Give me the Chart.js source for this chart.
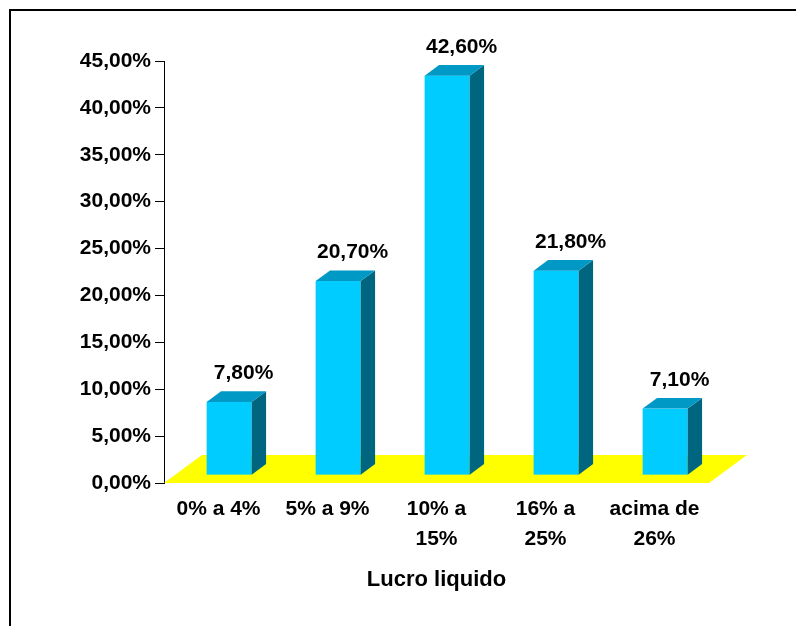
<!DOCTYPE html>
<html>
<head>
<meta charset="utf-8">
<script src="https://cdn.jsdelivr.net/npm/chart.js@4.4.0/dist/chart.umd.min.js"></script>
<style>
  html, body { margin: 0; padding: 0; background: #fff; overflow: hidden; }
  #wrap { position: relative; width: 796px; height: 626px; }
  #frame {
    position: absolute; left: 9px; top: 9px; width: 800px; height: 640px;
    border-left: 2px solid #000; border-top: 2px solid #000; pointer-events: none;
  }
  canvas { position: absolute; left: 0; top: 0; }
</style>
</head>
<body>
<div id="wrap">
  <canvas id="lucro-chart" width="796" height="626"></canvas>
  <div id="frame"></div>
</div>
<script>
const categories = [["0% a 4%"], ["5% a 9%"], ["10% a", "15%"], ["16% a", "25%"], ["acima de", "26%"]];
const shares = [7.8, 20.7, 42.6, 21.8, 7.1];
const yMax = 45;
const yStep = 5;

const FONT = "'Liberation Sans', Arial, sans-serif";

// depth of the floor, bars sit between barFront and barBack of it
const depth = { dx: 38, dy: -28 };
const barFront = 0.28;
const barBack = 0.66;

const pct = (v) => v.toFixed(2).replace(".", ",") + "%";

const bars3d = {
  id: "bars3d",
  beforeDatasetsDraw(chart) {
    const { ctx, chartArea } = chart;
    const base = chart.scales.y.getPixelForValue(0);
    ctx.save();
    ctx.fillStyle = "#ffff00";
    ctx.beginPath();
    ctx.moveTo(chartArea.left, base);
    ctx.lineTo(chartArea.right, base);
    ctx.lineTo(chartArea.right + depth.dx, base + depth.dy);
    ctx.lineTo(chartArea.left + depth.dx, base + depth.dy);
    ctx.closePath();
    ctx.fill();
    ctx.restore();
  },
  afterDatasetsDraw(chart) {
    const { ctx } = chart;
    const meta = chart.getDatasetMeta(0);
    const ox = depth.dx * barFront, oy = depth.dy * barFront;
    const ddx = depth.dx * (barBack - barFront), ddy = depth.dy * (barBack - barFront);
    ctx.save();
    meta.data.forEach((bar, i) => {
      const { x, y, base, width } = bar.getProps(["x", "y", "base", "width"], true);
      const x0 = x - width / 2 + ox, x1 = x + width / 2 + ox;
      const yt = y + oy, yb = base + oy;

      // front
      ctx.fillStyle = "#00ccff";
      ctx.fillRect(x0, yt, x1 - x0, yb - yt);

      // right side
      ctx.fillStyle = "#006680";
      ctx.beginPath();
      ctx.moveTo(x1, yt);
      ctx.lineTo(x1 + ddx, yt + ddy);
      ctx.lineTo(x1 + ddx, yb + ddy);
      ctx.lineTo(x1, yb);
      ctx.closePath();
      ctx.fill();

      // top
      ctx.fillStyle = "#0099c6";
      ctx.beginPath();
      ctx.moveTo(x0, yt);
      ctx.lineTo(x1, yt);
      ctx.lineTo(x1 + ddx, yt + ddy);
      ctx.lineTo(x0 + ddx, yt + ddy);
      ctx.closePath();
      ctx.fill();

      // value label
      ctx.fillStyle = "#000";
      ctx.font = "bold 21px " + FONT;
      ctx.textAlign = "center";
      ctx.textBaseline = "middle";
      ctx.fillText(pct(shares[i]), x + ox + ddx, yt + ddy - 18);
    });
    ctx.restore();
  }
};

const ctx = document.getElementById("lucro-chart").getContext("2d");
new Chart(ctx, {
  type: "bar",
  data: {
    labels: categories,
    datasets: [
      {
        data: shares,
        backgroundColor: "rgba(0,0,0,0)",
        borderWidth: 0,
        categoryPercentage: 1,
        barPercentage: 0.413,
      },
    ],
  },
  options: {
    responsive: false,
    devicePixelRatio: 1,
    animation: false,
    layout: { padding: { top: 61, right: 87, bottom: 0, left: 0 } },
    plugins: {
      legend: { display: false },
      tooltip: { enabled: false },
    },
    scales: {
      x: {
        ticks: {
          color: "#000",
          font: { family: FONT, size: 21, weight: "bold", lineHeight: 1.45 },
          padding: 3,
          maxRotation: 0,
          autoSkip: false,
        },
        grid: { display: false },
        border: { display: false },
        title: {
          display: true,
          text: "Lucro liquido",
          color: "#000",
          font: { family: FONT, size: 22, weight: "bold" },
          padding: { top: 0, bottom: 33 },
        },
        afterFit: (s) => { s.height = 143; },
      },
      y: {
        min: 0,
        max: yMax,
        ticks: {
          stepSize: yStep,
          color: "#000",
          font: { family: FONT, size: 21, weight: "bold" },
          padding: 4,
          callback: (v) => pct(v),
        },
        grid: { drawOnChartArea: false, color: "#000", tickLength: 9, lineWidth: 1 },
        border: { display: true, color: "#000", width: 1 },
        afterFit: (s) => { s.width = 164; },
      },
    },
  },
  plugins: [bars3d],
});
</script>
</body>
</html>
